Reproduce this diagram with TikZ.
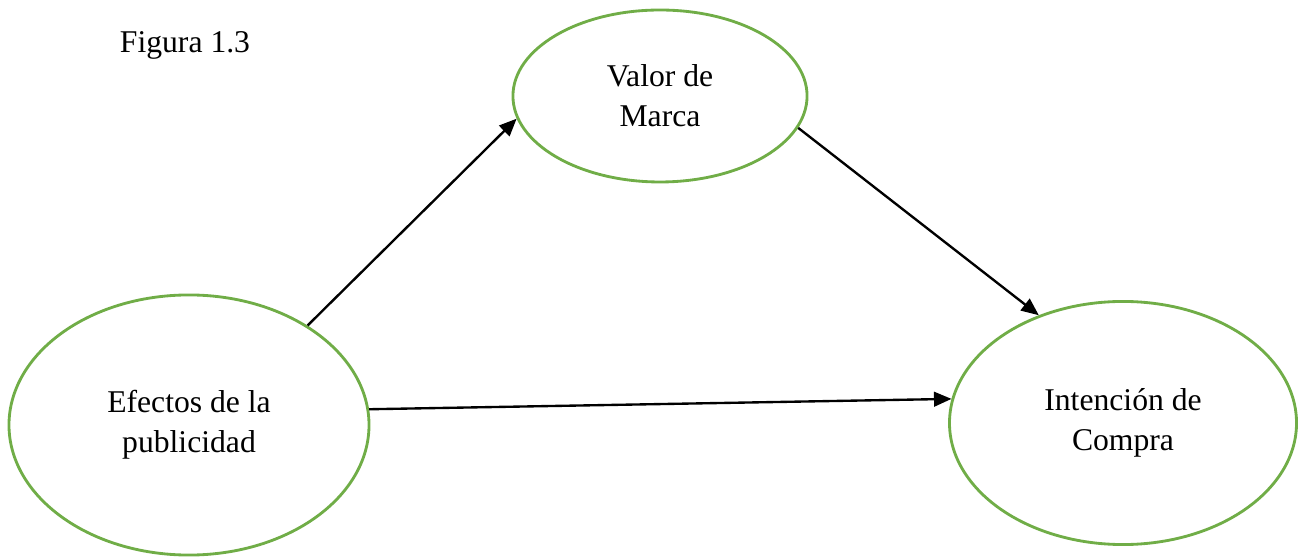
\documentclass[tikz,border=0pt]{standalone}
\usepackage{fontspec}
\setmainfont{Liberation Serif}
\usepackage{tikz}
\usetikzlibrary{shapes.geometric, arrows.meta, positioning}
\definecolor{ovalgreen}{HTML}{70AD47}

\begin{document}
\begin{tikzpicture}[
  x=0.4233pt, y=-0.4233pt,
  oval/.style={ellipse, draw=ovalgreen, line width=1.2pt, align=center,
               font=\fontsize{13.4}{17}\selectfont, inner sep=0pt},
  arr/.style={-{Triangle[length=7.4pt, width=6.2pt]}, black, line width=1pt},
  lbl/.style={font=\fontsize{13.4}{17}\selectfont},
]
  \useasboundingbox (0,0) rectangle (1299,557);

  \node[lbl] (fig) at (185,45) {Figura 1.3};

  \node[oval, minimum width=152.4pt, minimum height=110.1pt] (efectos) at (189,425)
       {Efectos de la\\publicidad};
  \node[oval, minimum width=124.5pt, minimum height=72.8pt]  (valor)   at (660,96)
       {Valor de\\Marca};
  \node[oval, minimum width=146.9pt, minimum height=102.9pt] (intencion) at (1123,423)
       {Intención de\\Compra};

  \draw[arr] (efectos.40) -- (valor.189);
  \draw[arr] (valor.347) -- (intencion.128);
  \draw[arr] (efectos.5) -- (intencion.172);
\end{tikzpicture}
\end{document}
